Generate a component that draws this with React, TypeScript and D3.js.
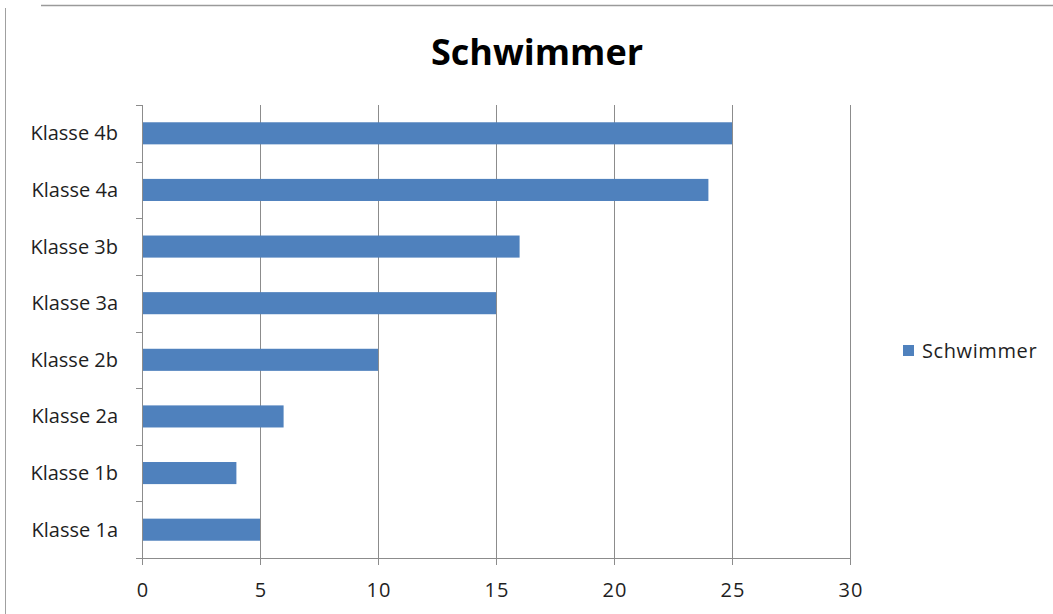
import { useEffect, useRef } from "react";
import * as d3 from "d3";

const categories = [
  "Klasse 1a",
  "Klasse 1b",
  "Klasse 2a",
  "Klasse 2b",
  "Klasse 3a",
  "Klasse 3b",
  "Klasse 4a",
  "Klasse 4b",
];
const schwimmer = [5, 4, 6, 10, 15, 16, 24, 25];
const xTicks = [0, 5, 10, 15, 20, 25, 30];
const seriesName = "Schwimmer";

export default function App() {
  const ref = useRef<SVGSVGElement | null>(null);

  useEffect(() => {
    const svg = d3.select(ref.current);
    const width = 1053;
    const height = 614;
    const font = "Open Sans, Calibri, sans-serif";
    const grid = "#8c8c8c";
    const barColor = "#4f81bd";
    const textColor = "#1f1f1f";

    svg.selectAll("*").remove();
    svg.attr("width", width).attr("height", height);

    // frame of the chart object (cut off in the screenshot)
    svg.append("line")
      .attr("x1", 5.5).attr("x2", 5.5).attr("y1", 8).attr("y2", height)
      .attr("stroke", "#a0a0a0");
    svg.append("line")
      .attr("x1", 41).attr("x2", width).attr("y1", 5.5).attr("y2", 5.5)
      .attr("stroke", "#9a9a9a").attr("stroke-width", 1.5);

    const left = 142;
    const right = 850;
    const top = 105;
    const bottom = 558;

    const x = d3.scaleLinear().domain([0, 30]).range([left, right]);
    const y = d3
      .scaleBand<string>()
      .domain([...categories].reverse())
      .range([top, bottom])
      .paddingInner(0.61)
      .paddingOuter(0.305);

    // vertical gridlines
    svg.append("g")
      .selectAll("line")
      .data(xTicks.slice(1))
      .enter()
      .append("line")
      .attr("x1", (d) => Math.round(x(d)) + 0.5)
      .attr("x2", (d) => Math.round(x(d)) + 0.5)
      .attr("y1", top)
      .attr("y2", bottom)
      .attr("stroke", grid);

    // bars
    svg.append("g")
      .selectAll("rect")
      .data(categories)
      .enter()
      .append("rect")
      .attr("x", x(0))
      .attr("y", (d) => y(d) as number)
      .attr("width", (d, i) => x(schwimmer[i]) - x(0))
      .attr("height", y.bandwidth())
      .attr("fill", barColor);

    // category axis
    const step = (bottom - top) / categories.length;
    const yAxis = svg.append("g");
    yAxis.append("line")
      .attr("x1", left + 0.5).attr("x2", left + 0.5)
      .attr("y1", top).attr("y2", bottom + 7)
      .attr("stroke", grid);
    yAxis.selectAll("line.tick")
      .data(d3.range(categories.length))
      .enter()
      .append("line")
      .attr("class", "tick")
      .attr("x1", left - 6)
      .attr("x2", left)
      .attr("y1", (i) => Math.round(top + i * step) + 0.5)
      .attr("y2", (i) => Math.round(top + i * step) + 0.5)
      .attr("stroke", grid);
    yAxis.selectAll("text")
      .data(categories)
      .enter()
      .append("text")
      .attr("x", 118)
      .attr("y", (d) => (y(d) as number) + y.bandwidth() / 2 + 7)
      .attr("text-anchor", "end")
      .attr("font-family", font)
      .attr("font-size", 20)
      .attr("fill", textColor)
      .text((d) => d);

    // value axis
    const xAxis = svg.append("g");
    xAxis.append("line")
      .attr("x1", left - 6).attr("x2", right + 1)
      .attr("y1", bottom + 0.5).attr("y2", bottom + 0.5)
      .attr("stroke", grid);
    xAxis.selectAll("line.tick")
      .data(xTicks)
      .enter()
      .append("line")
      .attr("class", "tick")
      .attr("x1", (d) => Math.round(x(d)) + 0.5)
      .attr("x2", (d) => Math.round(x(d)) + 0.5)
      .attr("y1", bottom)
      .attr("y2", bottom + 7)
      .attr("stroke", grid);
    xAxis.selectAll("text")
      .data(xTicks)
      .enter()
      .append("text")
      .attr("x", (d) => x(d) + 1)
      .attr("y", 597)
      .attr("text-anchor", "middle")
      .attr("font-family", font)
      .attr("font-size", 20)
      .attr("letter-spacing", 1)
      .attr("fill", textColor)
      .text((d) => d);

    // title
    svg.append("text")
      .attr("x", 537)
      .attr("y", 65)
      .attr("text-anchor", "middle")
      .attr("font-family", font)
      .attr("font-weight", "bold")
      .attr("font-size", 36)
      .attr("fill", "#000")
      .text(seriesName);

    // legend
    const legend = svg.append("g");
    legend.append("rect")
      .attr("x", 903).attr("y", 345)
      .attr("width", 11).attr("height", 11)
      .attr("fill", barColor);
    legend.append("text")
      .attr("x", 922)
      .attr("y", 358)
      .attr("font-family", font)
      .attr("font-size", 20)
      .attr("letter-spacing", 0.6)
      .attr("fill", textColor)
      .text(seriesName);
  }, []);

  return (
    <svg
      ref={ref}
      style={{ position: "absolute", left: 0, top: 0, background: "#fff" }}
    ></svg>
  );
}
